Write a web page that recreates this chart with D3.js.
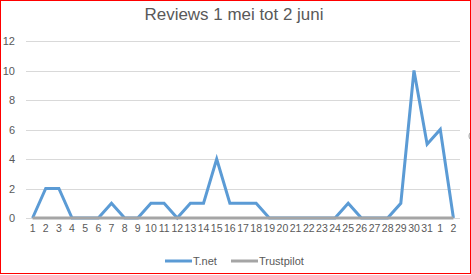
<!DOCTYPE html>
<html>
<head>
<meta charset="utf-8">
<script src="https://cdn.jsdelivr.net/npm/d3@7"></script>
<style>
  html, body { margin: 0; padding: 0; background: #fff; }
  svg { display: block; }
  text { font-family: "Liberation Sans", Arial, sans-serif; fill: #595959; }
</style>
</head>
<body>
<script>
const title = "Reviews 1 mei tot 2 juni";
const days = ["1","2","3","4","5","6","7","8","9","10","11","12","13","14","15","16","17","18","19","20","21","22","23","24","25","26","27","28","29","30","31","1","2"];
const tnet = [0,2,2,0,0,0,1,0,0,1,1,0,1,1,4,1,1,1,0,0,0,0,0,0,1,0,0,0,1,10,5,6,0];
const trustpilot = [0,0,0,0,0,0,0,0,0,0,0,0,0,0,0,0,0,0,0,0,0,0,0,0,0,0,0,0,0,0,0,0,0];
const yTicks = [0,2,4,6,8,10,12];
const seriesNames = ["T.net","Trustpilot"];
const seriesColors = ["#5B9BD5","#A5A5A5"];

const W = 471, H = 275;
const svg = d3.select("body").append("svg").attr("width", W).attr("height", H);
svg.append("rect").attr("width", W).attr("height", H).attr("fill", "#fff");

const mLeft = 26, mRight = 460, mTop = 41, mBottom = 218;
const x = d3.scaleBand().domain(d3.range(days.length)).range([mLeft, mRight]).padding(0);
const y = d3.scaleLinear().domain([0, 12]).range([mBottom, mTop]);
const cx = i => x(i) + x.bandwidth() / 2;

// gridlines
svg.append("g").selectAll("line").data(yTicks).join("line")
  .attr("x1", mLeft).attr("x2", mRight)
  .attr("y1", d => Math.round(y(d)) + 0.5).attr("y2", d => Math.round(y(d)) + 0.5)
  .attr("stroke", "#D9D9D9").attr("stroke-width", 1);

// y axis labels
const yAxis = d3.axisLeft(y).tickValues(yTicks).tickSize(0).tickPadding(0);
const gy = svg.append("g").attr("transform", "translate(15,0)").call(yAxis);
gy.select(".domain").remove();
gy.selectAll("text").attr("font-size", 11).style("fill", "#595959")
  .attr("font-family", "Liberation Sans, Arial, sans-serif").attr("dy", "0.35em");

// x axis labels
const xAxis = d3.axisBottom(x).tickFormat(i => days[i]).tickSize(0).tickPadding(0);
const gx = svg.append("g").attr("transform", `translate(0,${mBottom + 7})`).call(xAxis);
gx.select(".domain").remove();
gx.selectAll("text").attr("font-size", 10.5).style("fill", "#595959")
  .attr("font-family", "Liberation Sans, Arial, sans-serif").attr("dy", "0.71em");

// lines (T.net first, Trustpilot drawn over it)
const line = d3.line().x((d, i) => cx(i)).y(d => y(d));
svg.append("path").datum(tnet).attr("d", line)
  .attr("fill", "none").attr("stroke", seriesColors[0]).attr("stroke-width", 3)
  .attr("stroke-linejoin", "miter");
svg.append("path").datum(trustpilot).attr("d", line)
  .attr("fill", "none").attr("stroke", seriesColors[1]).attr("stroke-width", 3)
  .attr("stroke-linejoin", "round");

// title
const t = svg.append("text").attr("x", 234).attr("y", 20).attr("text-anchor", "middle")
  .attr("font-size", 17).style("fill", "#595959").text(title);
const tw = t.node().getComputedTextLength();
t.attr("font-size", 17 * 179 / tw);

// legend
const legend = [
  {name: seriesNames[0], color: seriesColors[0], x1: 165, x2: 192, tx: 193},
  {name: seriesNames[1], color: seriesColors[1], x1: 231, x2: 258, tx: 259}
];
const lg = svg.append("g");
legend.forEach(l => {
  lg.append("line").attr("x1", l.x1).attr("x2", l.x2).attr("y1", 261).attr("y2", 261)
    .attr("stroke", l.color).attr("stroke-width", 3);
  lg.append("text").attr("x", l.tx).attr("y", 261).attr("dy", "0.35em")
    .attr("font-size", 11).style("fill", "#595959").text(l.name);
});

// selection handle remnant
svg.append("circle").attr("cx", 474).attr("cy", 136).attr("r", 5)
  .attr("fill", "#fff").attr("stroke", "#A0A0A0").attr("stroke-width", 1);

// red frame
svg.append("rect").attr("x", 0.5).attr("y", 0.5).attr("width", 470).attr("height", 273)
  .attr("fill", "none").attr("stroke", "#FF0000").attr("stroke-width", 1);
</script>
</body>
</html>
